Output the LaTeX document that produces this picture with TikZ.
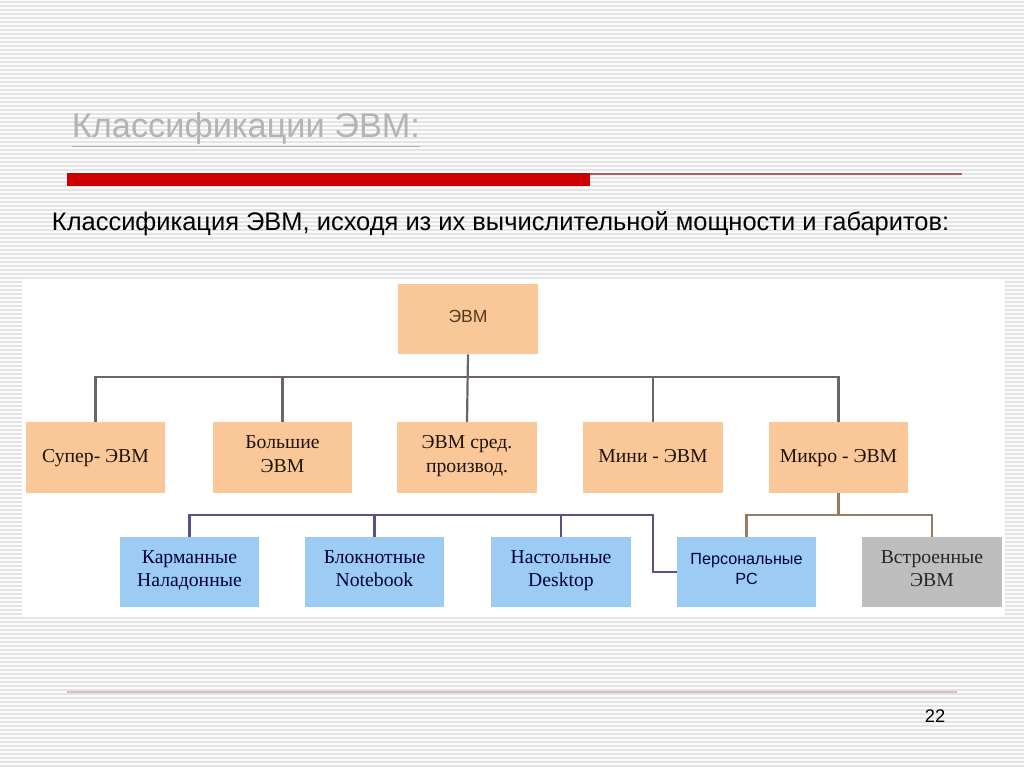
\documentclass[tikz,border=0pt]{standalone}
\usepackage{fontspec}
\setmainfont{Liberation Serif}
\setsansfont{Liberation Sans}
\definecolor{boxorange}{HTML}{FAC898}
\definecolor{boxblue}{HTML}{9CCBF3}
\definecolor{boxgray}{HTML}{BEBEBE}
\definecolor{linegray}{HTML}{6E6463}
\definecolor{linepurple}{HTML}{5E4F8C}
\definecolor{linebrown}{HTML}{9A7B60}
\definecolor{barred}{HTML}{CC0000}
\definecolor{thinred}{HTML}{B85A5E}
\definecolor{titlegray}{HTML}{B4B4B4}
\definecolor{stripe}{HTML}{E4E3E6}
\definecolor{footpink}{HTML}{DDB9BE}
\begin{document}
\begin{tikzpicture}[x=0.025cm,y=-0.025cm,
    evmbox/.style={minimum width=3.475cm, minimum height=1.75cm, align=center, inner sep=0pt,
      font=\fontsize{14}{16.5}\selectfont, execute at begin node=\strut, execute at end node=\strut},
    orangebox/.style={evmbox, fill=boxorange, text=black!85!brown},
    bluebox/.style={evmbox, fill=boxblue, text=black!75!blue},
    graybox/.style={evmbox, fill=boxgray, text=black!85},
    topline/.style={draw=linegray, line width=0.055cm},
    purpleline/.style={draw=linepurple, line width=0.055cm},
    brownline/.style={draw=linebrown, line width=0.055cm}]
      \useasboundingbox (0,0) rectangle (1024,767);
      \fill[white!97!gray] (0,0) rectangle (1024,767);
      \foreach \y in {2,6,...,766}
        \draw[stripe, line width=0.05cm] (0,\y) -- (1024,\y);
      \fill[white] (22,279) rectangle (1005,617);
      \node[anchor=west, text=titlegray, font=\sffamily\fontsize{24.4}{28}\selectfont] (title) at (67,130) {\underline{Классификации ЭВМ:}};
      \fill[barred] (67,173) rectangle (590,186);
      \draw[thinred, line width=0.04cm] (590,174) -- (962,174);
      \node[anchor=west, font=\sffamily\fontsize{18.1}{21}\selectfont] (subtitle) at (47,224) {Классификация ЭВМ, исходя из их вычислительной мощности и габаритов:};
      \node[orangebox, text=black!55!brown, font=\sffamily\fontsize{12.5}{14}\selectfont] (evm) at (468,319) {ЭВМ};
      \node[orangebox] (super) at (95.5,457.5) {Супер- ЭВМ};
      \node[orangebox] (bolshie) at (282.5,457.5) {Большие\\ЭВМ};
      \node[orangebox] (sred) at (467,457.5) {ЭВМ сред.\\производ.};
      \node[orangebox] (mini) at (653,457.5) {Мини - ЭВМ};
      \node[orangebox] (mikro) at (838.5,457.5) {Микро - ЭВМ};
      \node[bluebox] (karm) at (189.5,572) {Карманные\\Наладонные};
      \node[bluebox] (blok) at (374.5,572) {Блокнотные\\Notebook};
      \node[bluebox] (nast) at (561,572) {Настольные\\Desktop};
      \node[bluebox, font=\sffamily\fontsize{11.5}{14.5}\selectfont] (pers) at (746.5,572) {Персональные\\PC};
      \node[graybox] (vstr) at (932,572) {Встроенные\\ЭВМ};
      \coordinate (bus1) at (0,377);
      \coordinate (bus2) at (0,515);
      \coordinate (bend) at (653,0);
      \draw[topline] (evm.south) -- (sred.north);
      \draw[topline] (super.north) -- (super.north |- bus1) -- (mikro.north |- bus1) -- (mikro.north);
      \draw[topline] (bolshie.north) -- (bolshie.north |- bus1);
      \draw[topline] (mini.north) -- (mini.north |- bus1);
      \draw[purpleline] (karm.north) |- (bend |- bus2) |- (pers.west);
      \draw[purpleline] (blok.north) -- (blok.north |- bus2);
      \draw[purpleline] (nast.north) -- (nast.north |- bus2);
      \draw[brownline] (mikro.south) -- (mikro.south |- bus2);
      \draw[brownline] (pers.north) |- (vstr.north |- bus2) -- (vstr.north);
      \draw[footpink, line width=0.05cm] (67,692) -- (957,692);
      \node[font=\sffamily\fontsize{13}{15}\selectfont] (page) at (935,716) {22};
\end{tikzpicture}
\end{document}
